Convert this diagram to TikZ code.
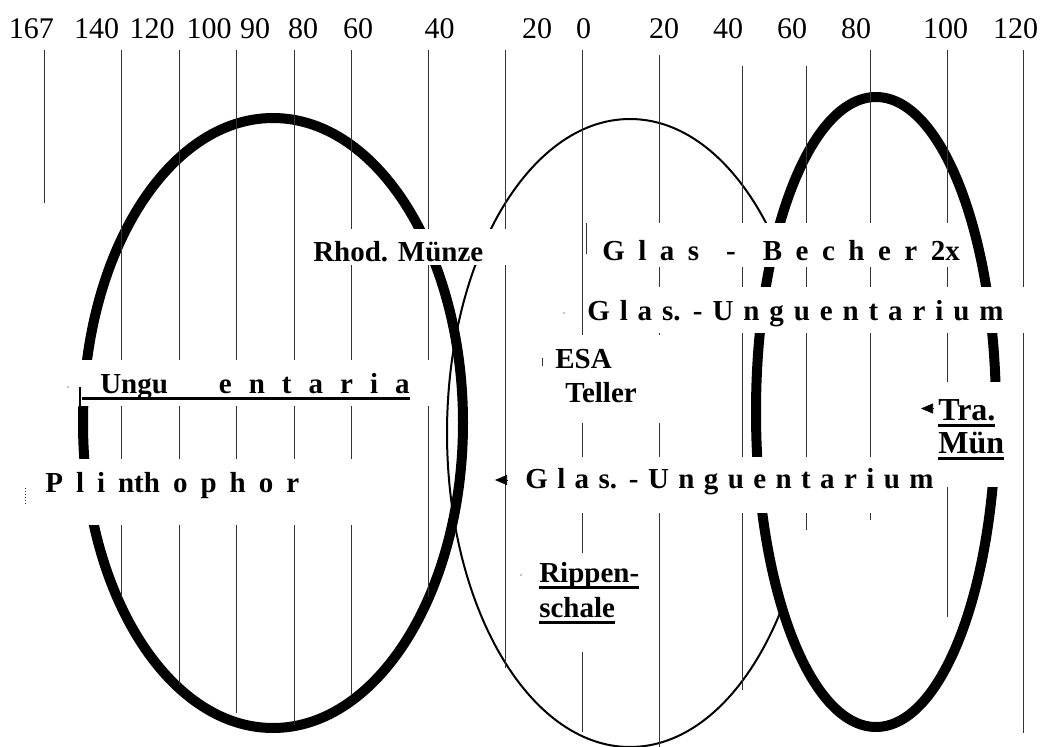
\documentclass[tikz,border=0pt]{standalone}
\usepackage{fontspec}
\setmainfont{Liberation Serif}
\usetikzlibrary{arrows.meta}
\newsavebox\ulbox
\newcommand\ulbar[1]{\sbox\ulbox{#1}\rlap{\rule[-7pt]{\wd\ulbox}{3pt}}\usebox\ulbox}
\tikzset{
  zahl/.style={font=\fontsize{30}{36}\selectfont,inner sep=0pt,anchor=base},
  fund/.style={font=\fontsize{29}{34}\selectfont\bfseries,inner sep=0pt,anchor=base west},
  gross/.style={fund,font=\fontsize{32}{38}\selectfont\bfseries},
  gesperrt/.style={fund,execute at begin node={\spaceskip=#1\relax}},
  strich/.style={line width=0.9pt,black!80},
  dick/.style={line width=10pt},
  duenn/.style={line width=2pt},
  maske/.style={fill=white}
}
\begin{document}
\begin{tikzpicture}[x=1pt,y=-1pt,semithick,>={Triangle[length=12pt,width=10pt]}]
\useasboundingbox (0,0) rectangle (1042,747);
% ellipses
\draw[duenn](630,433) ellipse [x radius=183pt,y radius=314pt];
\draw[dick](273,423) ellipse [x radius=190pt,y radius=305pt];
\draw[dick,fill=white](876,412) ellipse [x radius=120pt,y radius=315pt];
% scale lines
\draw[strich](44,50)--(44,203) (121,50)--(121,597) (179,50)--(179,685) (236,50)--(236,713)
  (294,50)--(294,725) (351,50)--(351,695) (428,50)--(428,597) (505,50)--(505,668)
  (582,50)--(582,732) (659,55)--(659,747) (742,66)--(742,690) (806,66)--(806,530)
  (870,50)--(870,520) (947,50)--(947,617) (1023,50)--(1023,733);
\node[zahl](l167)at(31.5,38){167};
\node[zahl](l140)at(96.7,38){140};
\node[zahl](l120)at(152,38){120};
\node[zahl](l100)at(209,38){100};
\node[zahl](l90)at(255,38){90};
\node[zahl](l80)at(303,38){80};
\node[zahl](l60)at(358,38){60};
\node[zahl](l40)at(439.5,38){40};
\node[zahl](l20)at(537,38){20};
\node[zahl](n0)at(583.5,38){0};
\node[zahl](r20)at(664,38){20};
\node[zahl](r40)at(728,38){40};
\node[zahl](r60)at(792,38){60};
\node[zahl](r80)at(856,38){80};
\node[zahl](r100)at(945.5,38){100};
\node[zahl](r120)at(1015.5,38){120};
% white boxes under the finds
\fill[maske](300,229)rectangle(515,265);
\fill[maske](587,223)rectangle(967,267);
\fill[maske](584,287)rectangle(1042,333);
\fill[maske](545,335)rectangle(725,423);
\fill[maske](935,382)rectangle(1012,487);
\fill[maske](510,457)rectangle(937,513);
\fill[maske](78,360)rectangle(438,406);
\fill[maske](30,459)rectangle(420,525);
\fill[maske](525,553)rectangle(650,652);
% finds
\node[fund](rhod)at(313,261){Rhod. Münze};
\node[gesperrt=13.5pt](becher)at(602,260){G l a s~~-~~B e c h e r 2x};
\node[gesperrt=9.9pt](glasoben)at(587,320){G l a s. - U n g u e n t a r i u m};
\node[fund](esa)at(555,368){ESA};
\node[fund](teller)at([xshift=10pt,yshift=-34pt]esa.base west){Teller};
\node[gross](tra)at(938,420){\ulbar{Tra.}};
\node[gross](muen)at([yshift=-33pt]tra.base west){\ulbar{Mün}};
\node[gesperrt=9.4pt](glasunten)at(525,488){G l a s. - U n g u e n t a r i u m};
\node[gesperrt=17pt](ungu)at(82,393){\ulbar{\hspace{18pt}Ungu~~~e n t a r i a}};
\node[gesperrt=13pt](plinth)at(45,492){P l i nth o p h o r};
\node[fund](rippen)at(539,582){\ulbar{Rippen-}};
\node[fund](schale)at([yshift=-35pt]rippen.base west){\ulbar{schale}};
% arrow heads
\coordinate(trapfeil)at(921,408.5);
\coordinate(glaspfeil)at(495,480);
\draw[->]([shift={(-5pt,11.5pt)}]tra.base west)--(trapfeil);
\draw[->]([shift={(-18pt,8pt)}]glasunten.base west)--(glaspfeil);
% leftovers of the box borders
\draw[strich](586,223)--(586,254) (542,358)--(542,366);
\draw[strich,dotted](25,488)--(25,505);
\draw[line width=1.2pt](80,387)--(80,406);
\fill(68,387)circle(0.7pt) (564,313)circle(0.7pt) (521,575)circle(0.7pt);
\end{tikzpicture}
\end{document}
